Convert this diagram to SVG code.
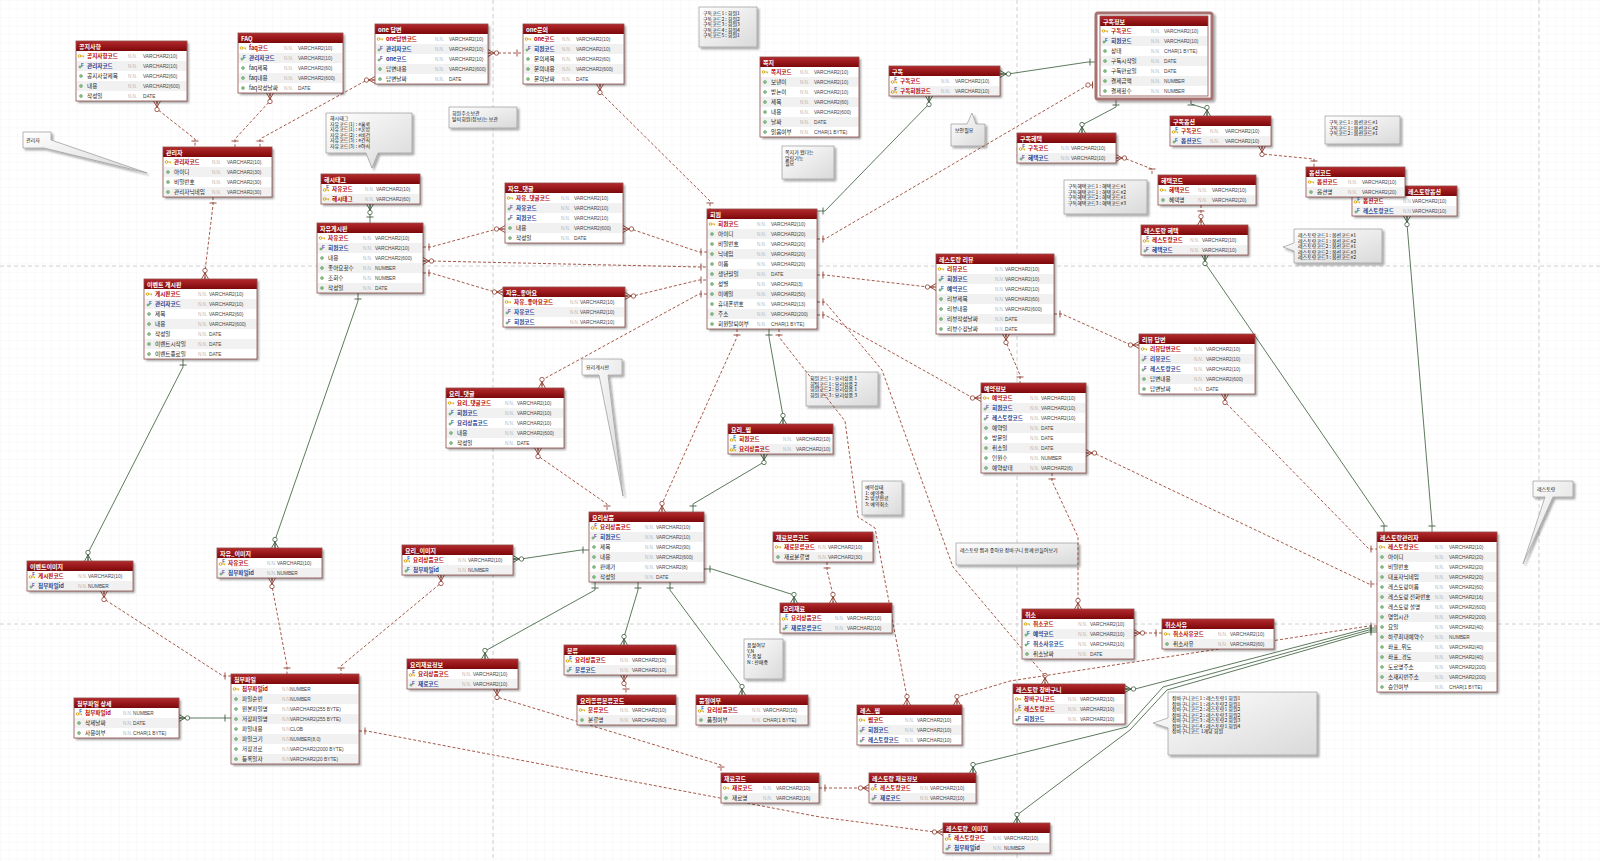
<svg xmlns="http://www.w3.org/2000/svg" xmlns:xlink="http://www.w3.org/1999/xlink" width="1600" height="861" viewBox="0 0 1600 861">
<defs>
<pattern id="grid" width="8.5" height="8.5" patternUnits="userSpaceOnUse"><path d="M0,0H8.5M0,0V8.5" fill="none" stroke="#ececec" stroke-width=".5"/></pattern>
<linearGradient id="hg" x1="0" y1="0" x2="0" y2="1"><stop offset="0" stop-color="#b52a2c"/><stop offset="1" stop-color="#7c080a"/></linearGradient>
<linearGradient id="ng" x1="0" y1="0" x2="1" y2="1"><stop offset="0" stop-color="#ffffff"/><stop offset="1" stop-color="#d9d9d9"/></linearGradient>
<filter id="sh" x="-10%" y="-10%" width="130%" height="140%"><feDropShadow dx="2" dy="2" stdDeviation="1.2" flood-color="#000" flood-opacity=".35"/></filter>
<g id="ia"><circle r="1.5" fill="#8cc58c" stroke="#3f7f3f" stroke-width=".4"/></g>
<g id="ik"><circle cx="-1.5" r="1.3" fill="none" stroke="#d2a400" stroke-width=".9"/><path d="M-.2,0H3.2M2.4,0V1.4" fill="none" stroke="#d2a400" stroke-width=".8"/></g>
<g id="if"><circle cx="-1" cy="1" r="1.2" fill="#8cc58c" stroke="#3f7f3f" stroke-width=".3"/><text x="0" y="0.6" font-family="Liberation Sans, sans-serif" font-size="4.5" font-weight="bold" fill="#2a4f9e">F</text></g>
<g id="ikf"><use href="#ik" y="1"/><text x="0.3" y="-0.4" font-family="Liberation Sans, sans-serif" font-size="4.5" font-weight="bold" fill="#2a4f9e">F</text></g>
<marker id="r1" markerUnits="userSpaceOnUse" orient="auto-start-reverse" markerWidth="20" markerHeight="20" refX="0" refY="0" style="overflow:visible"><path d="M-6,-3.5V3.5" stroke="#8e3b2e" stroke-width=".9" fill="none"/></marker>
<marker id="rm" markerUnits="userSpaceOnUse" orient="auto-start-reverse" markerWidth="20" markerHeight="20" refX="0" refY="0" style="overflow:visible"><path d="M-6,0L0,-3.5M-6,0L0,0M-6,0L0,3.5" stroke="#8e3b2e" stroke-width=".9" fill="none"/><circle cx="-8.5" r="2.2" fill="#fff" stroke="#8e3b2e" stroke-width=".8"/></marker>
<marker id="ro" markerUnits="userSpaceOnUse" orient="auto-start-reverse" markerWidth="20" markerHeight="20" refX="0" refY="0" style="overflow:visible"><path d="M-3.5,-3.5V3.5" stroke="#8e3b2e" stroke-width=".9" fill="none"/><circle cx="-8" r="2.2" fill="#fff" stroke="#8e3b2e" stroke-width=".8"/></marker>
<marker id="g1" markerUnits="userSpaceOnUse" orient="auto-start-reverse" markerWidth="20" markerHeight="20" refX="0" refY="0" style="overflow:visible"><path d="M-6,-3.5V3.5" stroke="#3c5a3c" stroke-width=".9" fill="none"/></marker>
<marker id="gm" markerUnits="userSpaceOnUse" orient="auto-start-reverse" markerWidth="20" markerHeight="20" refX="0" refY="0" style="overflow:visible"><path d="M-6,0L0,-3.5M-6,0L0,0M-6,0L0,3.5" stroke="#3c5a3c" stroke-width=".9" fill="none"/><circle cx="-8.5" r="2.2" fill="#fff" stroke="#3c5a3c" stroke-width=".8"/></marker>
</defs>
<style>
.bd{fill:#fff;filter:url(#sh)}
.fr{fill:none;stroke:#8e4b4b;stroke-width:.8}
.hd{fill:url(#hg)}
.z{fill:#f1f1f1}
.h{font-family:"Noto Sans CJK KR","Liberation Sans",sans-serif;font-size:6px;font-weight:bold;fill:#fff}
.p,.f,.a{font-family:"Noto Sans CJK KR","Liberation Sans",sans-serif;font-size:5.6px}
.p{font-weight:bold;fill:#b40000}
.f{font-weight:bold;fill:#1f3f90}
.a{fill:#222}
.n{font-family:"Liberation Sans",sans-serif;font-size:4.6px;fill:#b5b5b5}
.t{font-family:"Liberation Sans",sans-serif;font-size:4.8px;fill:#444}
.nt{fill:url(#ng);stroke:#999;stroke-width:.7;filter:url(#sh)}
.nx{font-family:"Noto Sans CJK KR","Liberation Sans",sans-serif;font-size:5px;fill:#111}
.r{fill:none;stroke:#9b4636;stroke-width:.9;stroke-dasharray:3 2}
.g{fill:none;stroke:#4b6b4b;stroke-width:.9}
.pg{stroke:#c4c4c4;stroke-width:.8;stroke-dasharray:4 3;fill:none}
</style>
<rect width="1600" height="861" fill="#fff"/>
<rect width="1600" height="861" fill="url(#grid)"/>
<g id="pages">
<path class="pg" d="M493,0V861M1017,0V861M1539,0V861M0,266H1600M0,624H1600"/>
</g>

<g id="notes">
<g id="n1"><path class="nt" d="M23,132H51V140L147,173L44,148H23Z"/><text class="nx" x="26" y="142">관리자</text></g>
<g id="n2"><path class="nt" d="M326,113H412V153H378L372,168L366,153H326Z"/><text class="nx" x="330" y="120">해시태그</text><text class="nx" x="330" y="125.5">자유코드(1) : #홈쿡</text><text class="nx" x="330" y="131">자유코드(1) : #혼밥</text><text class="nx" x="330" y="136.5">자유코드(2) : #비건</text><text class="nx" x="330" y="142">자유코드(3) : #간식</text><text class="nx" x="330" y="147.5">자유코드(3) : #야식</text></g>
<g id="n3"><rect class="nt" x="449" y="107" width="68" height="21"/><text class="nx" x="452" y="115">회원주소보관</text><text class="nx" x="452" y="121">탈퇴회원(정보)는 보관</text></g>
<g id="n4"><rect class="nt" x="699" y="7" width="58" height="40"/><text class="nx" x="703" y="15">구독코드1 : 회원1</text><text class="nx" x="703" y="20.5">구독코드2 : 회원2</text><text class="nx" x="703" y="26">구독코드3 : 회원3</text><text class="nx" x="703" y="31.5">구독코드4 : 회원4</text><text class="nx" x="703" y="37">구독코드5 : 회원1</text></g>
<g id="n5"><rect class="nt" x="782" y="146" width="52" height="33"/><text class="nx" x="785" y="154">쪽지가 왔다는</text><text class="nx" x="785" y="159.5">알림기능</text><text class="nx" x="785" y="165">필요</text></g>
<g id="n6"><path class="nt" d="M951,124H967L972,113L976,124H985V146H951Z"/><text class="nx" x="955" y="132">보안필요</text></g>
<g id="n7"><rect class="nt" x="1064" y="180" width="83" height="34"/><text class="nx" x="1068" y="188">구독혜택코드1 : 혜택코드#1</text><text class="nx" x="1068" y="193.5">구독혜택코드1 : 혜택코드#2</text><text class="nx" x="1068" y="199">구독혜택코드2 : 혜택코드#1</text><text class="nx" x="1068" y="204.5">구독혜택코드3 : 혜택코드#3</text></g>
<g id="n8"><rect class="nt" x="1325" y="116" width="75" height="28"/><text class="nx" x="1329" y="124">구독코드1 : 옵션코드#1</text><text class="nx" x="1329" y="129.5">구독코드1 : 옵션코드#2</text><text class="nx" x="1329" y="135">구독코드2 : 옵션코드#1</text></g>
<g id="n9"><path class="nt" d="M1294,229H1382V263H1294V251L1283,247L1294,243Z"/><text class="nx" x="1298" y="237">레스토랑코드1 : 옵션코드#1</text><text class="nx" x="1298" y="242.5">레스토랑코드1 : 옵션코드#2</text><text class="nx" x="1298" y="248">레스토랑코드2 : 옵션코드#1</text><text class="nx" x="1298" y="253.5">레스토랑코드2 : 옵션코드#3</text><text class="nx" x="1298" y="259">레스토랑코드3 : 옵션코드#2</text></g>
<g id="n10"><path class="nt" d="M582,359H622V375H608L623,496L599,375H582Z"/><text class="nx" x="586" y="369">요리게시판</text></g>
<g id="n11"><rect class="nt" x="806" y="372" width="72" height="34"/><text class="nx" x="810" y="380">회원코드1 : 요리상품 1</text><text class="nx" x="810" y="385.5">회원코드1 : 요리상품 2</text><text class="nx" x="810" y="391">회원코드2 : 요리상품 1</text><text class="nx" x="810" y="396.5">회원코드3 : 요리상품 3</text></g>
<g id="n12"><rect class="nt" x="862" y="481" width="40" height="34"/><text class="nx" x="865" y="489">예약상태</text><text class="nx" x="865" y="494.5">1: 예약중</text><text class="nx" x="865" y="500">2: 방문완료</text><text class="nx" x="865" y="505.5">3: 예약취소</text></g>
<g id="n13"><rect class="nt" x="956" y="543" width="122" height="22"/><text class="nx" x="960" y="552">레스토랑 찜과 좋아요 장바구니 함께 만들어보기</text></g>
<g id="n14"><path class="nt" d="M1533,481H1573V497H1553L1523,564L1545,497H1533Z"/><text class="nx" x="1537" y="491">레스토랑</text></g>
<g id="n15"><rect class="nt" x="744" y="639" width="39" height="40"/><text class="nx" x="747" y="647">품절여부</text><text class="nx" x="747" y="652.5">Y,N</text><text class="nx" x="747" y="658">Y: 품절</text><text class="nx" x="747" y="663.5">N : 판매중</text></g>
<g id="n16"><path class="nt" d="M1168,692H1317V755H1168V728L1153,723L1168,718Z"/><text class="nx" x="1172" y="700">장바구니코드1 : 레스토랑1 회원1</text><text class="nx" x="1172" y="705.5">장바구니코드1 : 레스토랑2 회원1</text><text class="nx" x="1172" y="711">장바구니코드2 : 레스토랑1 회원2</text><text class="nx" x="1172" y="716.5">장바구니코드2 : 레스토랑3 회원2</text><text class="nx" x="1172" y="722">장바구니코드3 : 레스토랑2 회원3</text><text class="nx" x="1172" y="727.5">장바구니코드4 : 레스토랑1 회원4</text><text class="nx" x="1172" y="733">장바구니코드 1개당 회원</text></g>
</g>

<g id="connectors">
<path class="r" d="M157,101V109L195,139V147" marker-start="url(#rm)" marker-end="url(#r1)"/>
<path class="r" d="M270,93V101L235,139V147" marker-start="url(#rm)" marker-end="url(#r1)"/>
<path class="r" d="M375,80H367L260,139V147" marker-start="url(#rm)" marker-end="url(#r1)"/>
<path class="r" d="M488,53H523" marker-start="url(#rm)" marker-end="url(#r1)"/>
<path class="r" d="M600,84V92L710,201V209" marker-start="url(#rm)" marker-end="url(#r1)"/>
<path class="r" d="M213,197V205L205,271V279" marker-start="url(#r1)" marker-end="url(#rm)"/>
<path class="g" d="M370,204V223" marker-start="url(#gm)" marker-end="url(#g1)"/>
<path class="r" d="M423,247H431L497,229H505" marker-start="url(#r1)" marker-end="url(#rm)"/>
<path class="r" d="M623,229H631L699,252H707" marker-start="url(#rm)" marker-end="url(#r1)"/>
<path class="r" d="M423,261H431L699,267H707" marker-start="url(#rm)" marker-end="url(#r1)"/>
<path class="r" d="M423,273H431L495,292H503" marker-start="url(#r1)" marker-end="url(#rm)"/>
<path class="r" d="M625,296H633L699,280H707" marker-start="url(#rm)" marker-end="url(#r1)"/>
<path class="r" d="M707,294H699L542,380V388" marker-start="url(#r1)" marker-end="url(#rm)"/>
<path class="r" d="M737,329V337L662,504V512" marker-start="url(#r1)" marker-end="url(#rm)"/>
<path class="g" d="M769,329V337L783,416V424" marker-start="url(#g1)" marker-end="url(#gm)"/>
<path class="r" d="M779,329V337L845,421L858,517L875,528L907,697V705" marker-start="url(#r1)" marker-end="url(#rm)"/>
<path class="r" d="M817,302H825L882,370L953,567L1045,676V684" marker-start="url(#r1)" marker-end="url(#rm)"/>
<path class="r" d="M1377,626H1369L1010,681L957,697V705" marker-start="url(#r1)" marker-end="url(#rm)"/>
<path class="g" d="M1377,628H1369L1135,689H1125" marker-start="url(#g1)" marker-end="url(#gm)"/>
<path class="g" d="M1377,630H1369L1163,687L1127,727L973,765V773" marker-start="url(#g1)" marker-end="url(#gm)"/>
<path class="g" d="M1377,632H1369L1167,690L1130,730L1017,815V823" marker-start="url(#g1)" marker-end="url(#gm)"/>
<path class="r" d="M819,788H869" marker-start="url(#r1)" marker-end="url(#rm)"/>
<path class="r" d="M359,731H367L820,817L935,832H943" marker-start="url(#r1)" marker-end="url(#rm)"/>
<path class="r" d="M497,689V697L721,765V773" marker-start="url(#rm)" marker-end="url(#r1)"/>
<path class="r" d="M624,675V683L626,687V695" marker-start="url(#rm)" marker-end="url(#r1)"/>
<path class="g" d="M595,582V590L485,651V659" marker-start="url(#g1)" marker-end="url(#gm)"/>
<path class="g" d="M638,582V590L624,637V645" marker-start="url(#g1)" marker-end="url(#gm)"/>
<path class="g" d="M670,582V590L742,687V695" marker-start="url(#g1)" marker-end="url(#gm)"/>
<path class="g" d="M704,569H712L794,595V603" marker-start="url(#g1)" marker-end="url(#gm)"/>
<path class="r" d="M827,562V570L833,595V603" marker-start="url(#r1)" marker-end="url(#rm)"/>
<path class="g" d="M764,454V462L693,504V512" marker-start="url(#gm)" marker-end="url(#g1)"/>
<path class="r" d="M538,448V456L607,504V512" marker-start="url(#rm)" marker-end="url(#r1)"/>
<path class="g" d="M513,559H521L581,550H589" marker-start="url(#gm)" marker-end="url(#g1)"/>
<path class="r" d="M441,575V583L341,666V674" marker-start="url(#rm)" marker-end="url(#r1)"/>
<path class="r" d="M272,578V586L287,666V674" marker-start="url(#rm)" marker-end="url(#r1)"/>
<path class="r" d="M104,591V599L223,676H231" marker-start="url(#rm)" marker-end="url(#r1)"/>
<path class="g" d="M179,718H231" marker-start="url(#gm)" marker-end="url(#g1)"/>
<path class="g" d="M183,359V367L88,553V561" marker-start="url(#g1)" marker-end="url(#gm)"/>
<path class="g" d="M358,293V301L275,540V548" marker-start="url(#g1)" marker-end="url(#gm)"/>
<path class="g" d="M817,211H825L929,104V96" marker-start="url(#g1)" marker-end="url(#gm)"/>
<path class="r" d="M817,239H825L1088,85H1096" marker-start="url(#r1)" marker-end="url(#ro)"/>
<path class="g" d="M1000,74H1008L1088,62H1096" marker-start="url(#gm)" marker-end="url(#g1)"/>
<path class="g" d="M1116,99V107L1082,125V133" marker-start="url(#g1)" marker-end="url(#gm)"/>
<path class="g" d="M1191,99V104L1207,109V116" marker-start="url(#g1)" marker-end="url(#gm)"/>
<path class="r" d="M1116,158H1124L1152,169V175" marker-start="url(#rm)" marker-end="url(#r1)"/>
<path class="r" d="M1201,205V225" marker-start="url(#r1)" marker-end="url(#rm)"/>
<path class="g" d="M1205,255V263L1384,524V532" marker-start="url(#gm)" marker-end="url(#g1)"/>
<path class="r" d="M1262,146V154L1314,159V167" marker-start="url(#rm)" marker-end="url(#r1)"/>
<path class="r" d="M1363,177L1398,199V206" marker-start="url(#rm)" marker-end="url(#r1)"/>
<path class="g" d="M1407,216V224L1432,524V532" marker-start="url(#gm)" marker-end="url(#g1)"/>
<path class="r" d="M1054,314H1062L1131,345H1139" marker-start="url(#r1)" marker-end="url(#rm)"/>
<path class="r" d="M817,275H825L928,287H936" marker-start="url(#r1)" marker-end="url(#rm)"/>
<path class="r" d="M1006,334V342L1020,375V383" marker-start="url(#rm)" marker-end="url(#r1)"/>
<path class="r" d="M817,315H825L973,398H981" marker-start="url(#r1)" marker-end="url(#rm)"/>
<path class="r" d="M1086,453H1094L1369,584H1377" marker-start="url(#rm)" marker-end="url(#r1)"/>
<path class="r" d="M1225,394V402L1369,549H1377" marker-start="url(#rm)" marker-end="url(#r1)"/>
<path class="r" d="M1052,473V481L1078,537V609" marker-start="url(#r1)" marker-end="url(#rm)"/>
<path class="r" d="M1134,633H1162" marker-start="url(#rm)" marker-end="url(#r1)"/>
</g>

<g id="t01" transform="translate(76,41)"><rect class="bd" width="111" height="60"/><rect class="z" x=".5" y="20" width="110" height="10"/><rect class="z" x=".5" y="40" width="110" height="10"/><rect class="hd" width="111" height="10"/><rect class="fr" width="111" height="60"/><text class="h" x="3" y="7.6">공지사항</text>
<use href="#ik" x="5" y="15"/><text class="p" x="11" y="17.2">공지사항코드</text><text class="n" x="52" y="17.2">N.N.</text><text class="t" x="67" y="17.2">VARCHAR2(10)</text>
<use href="#if" x="5" y="25"/><text class="f" x="11" y="27.2">관리자코드</text><text class="n" x="52" y="27.2">N.N.</text><text class="t" x="67" y="27.2">VARCHAR2(10)</text>
<use href="#ia" x="5" y="35"/><text class="a" x="11" y="37.2">공지사항제목</text><text class="n" x="52" y="37.2">N.N.</text><text class="t" x="67" y="37.2">VARCHAR2(60)</text>
<use href="#ia" x="5" y="45"/><text class="a" x="11" y="47.2">내용</text><text class="n" x="52" y="47.2">N.N.</text><text class="t" x="67" y="47.2">VARCHAR2(600)</text>
<use href="#ia" x="5" y="55"/><text class="a" x="11" y="57.2">작성일</text><text class="n" x="52" y="57.2">N.N.</text><text class="t" x="67" y="57.2">DATE</text></g>

<g id="t02" transform="translate(238,33)"><rect class="bd" width="105" height="60"/><rect class="z" x=".5" y="20" width="104" height="10"/><rect class="z" x=".5" y="40" width="104" height="10"/><rect class="hd" width="105" height="10"/><rect class="fr" width="105" height="60"/><text class="h" x="3" y="7.6">FAQ</text>
<use href="#ik" x="5" y="15"/><text class="p" x="11" y="17.2">faq코드</text><text class="n" x="46" y="17.2">N.N.</text><text class="t" x="60" y="17.2">VARCHAR2(10)</text>
<use href="#if" x="5" y="25"/><text class="f" x="11" y="27.2">관리자코드</text><text class="n" x="46" y="27.2">N.N.</text><text class="t" x="60" y="27.2">VARCHAR2(10)</text>
<use href="#ia" x="5" y="35"/><text class="a" x="11" y="37.2">faq제목</text><text class="n" x="46" y="37.2">N.N.</text><text class="t" x="60" y="37.2">VARCHAR2(60)</text>
<use href="#ia" x="5" y="45"/><text class="a" x="11" y="47.2">faq내용</text><text class="n" x="46" y="47.2">N.N.</text><text class="t" x="60" y="47.2">VARCHAR2(600)</text>
<use href="#ia" x="5" y="55"/><text class="a" x="11" y="57.2">faq작성날짜</text><text class="n" x="46" y="57.2">N.N.</text><text class="t" x="60" y="57.2">DATE</text></g>

<g id="t03" transform="translate(163,147)"><rect class="bd" width="109" height="50"/><rect class="z" x=".5" y="20" width="108" height="10"/><rect class="z" x=".5" y="40" width="108" height="10"/><rect class="hd" width="109" height="10"/><rect class="fr" width="109" height="50"/><text class="h" x="3" y="7.6">관리자</text>
<use href="#ik" x="5" y="15"/><text class="p" x="11" y="17.2">관리자코드</text><text class="n" x="49" y="17.2">N.N.</text><text class="t" x="64" y="17.2">VARCHAR2(10)</text>
<use href="#ia" x="5" y="25"/><text class="a" x="11" y="27.2">아이디</text><text class="n" x="49" y="27.2">N.N.</text><text class="t" x="64" y="27.2">VARCHAR2(30)</text>
<use href="#ia" x="5" y="35"/><text class="a" x="11" y="37.2">비밀번호</text><text class="n" x="49" y="37.2">N.N.</text><text class="t" x="64" y="37.2">VARCHAR2(30)</text>
<use href="#ia" x="5" y="45"/><text class="a" x="11" y="47.2">관리자닉네임</text><text class="n" x="49" y="47.2">N.N.</text><text class="t" x="64" y="47.2">VARCHAR2(30)</text></g>

<g id="t04" transform="translate(375,24)"><rect class="bd" width="113" height="60"/><rect class="z" x=".5" y="20" width="112" height="10"/><rect class="z" x=".5" y="40" width="112" height="10"/><rect class="hd" width="113" height="10"/><rect class="fr" width="113" height="60"/><text class="h" x="3" y="7.6">one 답변</text>
<use href="#ik" x="5" y="15"/><text class="p" x="11" y="17.2">one답변코드</text><text class="n" x="60" y="17.2">N.N.</text><text class="t" x="74" y="17.2">VARCHAR2(10)</text>
<use href="#if" x="5" y="25"/><text class="f" x="11" y="27.2">관리자코드</text><text class="n" x="60" y="27.2">N.N.</text><text class="t" x="74" y="27.2">VARCHAR2(10)</text>
<use href="#if" x="5" y="35"/><text class="f" x="11" y="37.2">one코드</text><text class="n" x="60" y="37.2">N.N.</text><text class="t" x="74" y="37.2">VARCHAR2(10)</text>
<use href="#ia" x="5" y="45"/><text class="a" x="11" y="47.2">답변내용</text><text class="n" x="60" y="47.2">N.N.</text><text class="t" x="74" y="47.2">VARCHAR2(600)</text>
<use href="#ia" x="5" y="55"/><text class="a" x="11" y="57.2">답변날짜</text><text class="n" x="60" y="57.2">N.N.</text><text class="t" x="74" y="57.2">DATE</text></g>

<g id="t05" transform="translate(523,24)"><rect class="bd" width="101" height="60"/><rect class="z" x=".5" y="20" width="100" height="10"/><rect class="z" x=".5" y="40" width="100" height="10"/><rect class="hd" width="101" height="10"/><rect class="fr" width="101" height="60"/><text class="h" x="3" y="7.6">one문의</text>
<use href="#ik" x="5" y="15"/><text class="p" x="11" y="17.2">one코드</text><text class="n" x="39" y="17.2">N.N.</text><text class="t" x="53" y="17.2">VARCHAR2(10)</text>
<use href="#if" x="5" y="25"/><text class="f" x="11" y="27.2">회원코드</text><text class="n" x="39" y="27.2">N.N.</text><text class="t" x="53" y="27.2">VARCHAR2(10)</text>
<use href="#ia" x="5" y="35"/><text class="a" x="11" y="37.2">문의제목</text><text class="n" x="39" y="37.2">N.N.</text><text class="t" x="53" y="37.2">VARCHAR2(60)</text>
<use href="#ia" x="5" y="45"/><text class="a" x="11" y="47.2">문의내용</text><text class="n" x="39" y="47.2">N.N.</text><text class="t" x="53" y="47.2">VARCHAR2(600)</text>
<use href="#ia" x="5" y="55"/><text class="a" x="11" y="57.2">문의날짜</text><text class="n" x="39" y="57.2">N.N.</text><text class="t" x="53" y="57.2">DATE</text></g>

<g id="t06" transform="translate(760,57)"><rect class="bd" width="99" height="80"/><rect class="z" x=".5" y="20" width="98" height="10"/><rect class="z" x=".5" y="40" width="98" height="10"/><rect class="z" x=".5" y="60" width="98" height="10"/><rect class="hd" width="99" height="10"/><rect class="fr" width="99" height="80"/><text class="h" x="3" y="7.6">쪽지</text>
<use href="#ik" x="5" y="15"/><text class="p" x="11" y="17.2">쪽지코드</text><text class="n" x="40" y="17.2">N.N.</text><text class="t" x="54" y="17.2">VARCHAR2(10)</text>
<use href="#ia" x="5" y="25"/><text class="a" x="11" y="27.2">보낸이</text><text class="n" x="40" y="27.2">N.N.</text><text class="t" x="54" y="27.2">VARCHAR2(10)</text>
<use href="#ia" x="5" y="35"/><text class="a" x="11" y="37.2">받는이</text><text class="n" x="40" y="37.2">N.N.</text><text class="t" x="54" y="37.2">VARCHAR2(10)</text>
<use href="#ia" x="5" y="45"/><text class="a" x="11" y="47.2">제목</text><text class="n" x="40" y="47.2">N.N.</text><text class="t" x="54" y="47.2">VARCHAR2(60)</text>
<use href="#ia" x="5" y="55"/><text class="a" x="11" y="57.2">내용</text><text class="n" x="40" y="57.2">N.N.</text><text class="t" x="54" y="57.2">VARCHAR2(600)</text>
<use href="#ia" x="5" y="65"/><text class="a" x="11" y="67.2">날짜</text><text class="n" x="40" y="67.2">N.N.</text><text class="t" x="54" y="67.2">DATE</text>
<use href="#ia" x="5" y="75"/><text class="a" x="11" y="77.2">읽음여부</text><text class="n" x="40" y="77.2">N.N.</text><text class="t" x="54" y="77.2">CHAR(1 BYTE)</text></g>

<g id="t07" transform="translate(321,174)"><rect class="bd" width="99" height="30"/><rect class="z" x=".5" y="20" width="98" height="10"/><rect class="hd" width="99" height="10"/><rect class="fr" width="99" height="30"/><text class="h" x="3" y="7.6">해시태그</text>
<use href="#ikf" x="5" y="15"/><text class="p" x="11" y="17.2">자유코드</text><text class="n" x="44" y="17.2">N.N.</text><text class="t" x="55" y="17.2">VARCHAR2(10)</text>
<use href="#ik" x="5" y="25"/><text class="p" x="11" y="27.2">해시태그</text><text class="n" x="44" y="27.2">N.N.</text><text class="t" x="55" y="27.2">VARCHAR2(60)</text></g>

<g id="t08" transform="translate(317,223)"><rect class="bd" width="106" height="70"/><rect class="z" x=".5" y="20" width="105" height="10"/><rect class="z" x=".5" y="40" width="105" height="10"/><rect class="z" x=".5" y="60" width="105" height="10"/><rect class="hd" width="106" height="10"/><rect class="fr" width="106" height="70"/><text class="h" x="3" y="7.6">자유게시판</text>
<use href="#ik" x="5" y="15"/><text class="p" x="11" y="17.2">자유코드</text><text class="n" x="46" y="17.2">N.N.</text><text class="t" x="58" y="17.2">VARCHAR2(10)</text>
<use href="#if" x="5" y="25"/><text class="f" x="11" y="27.2">회원코드</text><text class="n" x="46" y="27.2">N.N.</text><text class="t" x="58" y="27.2">VARCHAR2(10)</text>
<use href="#ia" x="5" y="35"/><text class="a" x="11" y="37.2">내용</text><text class="n" x="46" y="37.2">N.N.</text><text class="t" x="58" y="37.2">VARCHAR2(600)</text>
<use href="#ia" x="5" y="45"/><text class="a" x="11" y="47.2">좋아요횟수</text><text class="n" x="46" y="47.2">N.N.</text><text class="t" x="58" y="47.2">NUMBER</text>
<use href="#ia" x="5" y="55"/><text class="a" x="11" y="57.2">조회수</text><text class="n" x="46" y="57.2">N.N.</text><text class="t" x="58" y="57.2">NUMBER</text>
<use href="#ia" x="5" y="65"/><text class="a" x="11" y="67.2">작성일</text><text class="n" x="46" y="67.2">N.N.</text><text class="t" x="58" y="67.2">DATE</text></g>

<g id="t09" transform="translate(505,183)"><rect class="bd" width="118" height="60"/><rect class="z" x=".5" y="20" width="117" height="10"/><rect class="z" x=".5" y="40" width="117" height="10"/><rect class="hd" width="118" height="10"/><rect class="fr" width="118" height="60"/><text class="h" x="3" y="7.6">자유_댓글</text>
<use href="#ik" x="5" y="15"/><text class="p" x="11" y="17.2">자유_댓글코드</text><text class="n" x="56" y="17.2">N.N.</text><text class="t" x="69" y="17.2">VARCHAR2(10)</text>
<use href="#if" x="5" y="25"/><text class="f" x="11" y="27.2">자유코드</text><text class="n" x="56" y="27.2">N.N.</text><text class="t" x="69" y="27.2">VARCHAR2(10)</text>
<use href="#if" x="5" y="35"/><text class="f" x="11" y="37.2">회원코드</text><text class="n" x="56" y="37.2">N.N.</text><text class="t" x="69" y="37.2">VARCHAR2(10)</text>
<use href="#ia" x="5" y="45"/><text class="a" x="11" y="47.2">내용</text><text class="n" x="56" y="47.2">N.N.</text><text class="t" x="69" y="47.2">VARCHAR2(600)</text>
<use href="#ia" x="5" y="55"/><text class="a" x="11" y="57.2">작성일</text><text class="n" x="56" y="57.2">N.N.</text><text class="t" x="69" y="57.2">DATE</text></g>

<g id="t10" transform="translate(503,287)"><rect class="bd" width="122" height="40"/><rect class="z" x=".5" y="20" width="121" height="10"/><rect class="hd" width="122" height="10"/><rect class="fr" width="122" height="40"/><text class="h" x="3" y="7.6">자유_좋아요</text>
<use href="#ik" x="5" y="15"/><text class="p" x="11" y="17.2">자유_좋아요코드</text><text class="n" x="67" y="17.2">N.N.</text><text class="t" x="77" y="17.2">VARCHAR2(10)</text>
<use href="#if" x="5" y="25"/><text class="f" x="11" y="27.2">자유코드</text><text class="n" x="67" y="27.2">N.N.</text><text class="t" x="77" y="27.2">VARCHAR2(10)</text>
<use href="#if" x="5" y="35"/><text class="f" x="11" y="37.2">회원코드</text><text class="n" x="67" y="37.2">N.N.</text><text class="t" x="77" y="37.2">VARCHAR2(10)</text></g>

<g id="t11" transform="translate(707,209)"><rect class="bd" width="110" height="120"/><rect class="z" x=".5" y="20" width="109" height="10"/><rect class="z" x=".5" y="40" width="109" height="10"/><rect class="z" x=".5" y="60" width="109" height="10"/><rect class="z" x=".5" y="80" width="109" height="10"/><rect class="z" x=".5" y="100" width="109" height="10"/><rect class="hd" width="110" height="10"/><rect class="fr" width="110" height="120"/><text class="h" x="3" y="7.6">회원</text>
<use href="#ik" x="5" y="15"/><text class="p" x="11" y="17.2">회원코드</text><text class="n" x="50" y="17.2">N.N.</text><text class="t" x="64" y="17.2">VARCHAR2(10)</text>
<use href="#ia" x="5" y="25"/><text class="a" x="11" y="27.2">아이디</text><text class="n" x="50" y="27.2">N.N.</text><text class="t" x="64" y="27.2">VARCHAR2(20)</text>
<use href="#ia" x="5" y="35"/><text class="a" x="11" y="37.2">비밀번호</text><text class="n" x="50" y="37.2">N.N.</text><text class="t" x="64" y="37.2">VARCHAR2(20)</text>
<use href="#ia" x="5" y="45"/><text class="a" x="11" y="47.2">닉네임</text><text class="n" x="50" y="47.2">N.N.</text><text class="t" x="64" y="47.2">VARCHAR2(20)</text>
<use href="#ia" x="5" y="55"/><text class="a" x="11" y="57.2">이름</text><text class="n" x="50" y="57.2">N.N.</text><text class="t" x="64" y="57.2">VARCHAR2(20)</text>
<use href="#ia" x="5" y="65"/><text class="a" x="11" y="67.2">생년월일</text><text class="n" x="50" y="67.2">N.N.</text><text class="t" x="64" y="67.2">DATE</text>
<use href="#ia" x="5" y="75"/><text class="a" x="11" y="77.2">성별</text><text class="n" x="50" y="77.2">N.N.</text><text class="t" x="64" y="77.2">VARCHAR2(3)</text>
<use href="#ia" x="5" y="85"/><text class="a" x="11" y="87.2">이메일</text><text class="n" x="50" y="87.2">N.N.</text><text class="t" x="64" y="87.2">VARCHAR2(50)</text>
<use href="#ia" x="5" y="95"/><text class="a" x="11" y="97.2">휴대폰번호</text><text class="n" x="50" y="97.2">N.N.</text><text class="t" x="64" y="97.2">VARCHAR2(13)</text>
<use href="#ia" x="5" y="105"/><text class="a" x="11" y="107.2">주소</text><text class="n" x="50" y="107.2">N.N.</text><text class="t" x="64" y="107.2">VARCHAR2(200)</text>
<use href="#ia" x="5" y="115"/><text class="a" x="11" y="117.2">회원탈퇴여부</text><text class="n" x="50" y="117.2">N.N.</text><text class="t" x="64" y="117.2">CHAR(1 BYTE)</text></g>

<g id="t12" transform="translate(144,279)"><rect class="bd" width="113" height="80"/><rect class="z" x=".5" y="20" width="112" height="10"/><rect class="z" x=".5" y="40" width="112" height="10"/><rect class="z" x=".5" y="60" width="112" height="10"/><rect class="hd" width="113" height="10"/><rect class="fr" width="113" height="80"/><text class="h" x="3" y="7.6">이벤트 게시판</text>
<use href="#ik" x="5" y="15"/><text class="p" x="11" y="17.2">게시판코드</text><text class="n" x="54" y="17.2">N.N.</text><text class="t" x="65" y="17.2">VARCHAR2(10)</text>
<use href="#if" x="5" y="25"/><text class="f" x="11" y="27.2">관리자코드</text><text class="n" x="54" y="27.2">N.N.</text><text class="t" x="65" y="27.2">VARCHAR2(10)</text>
<use href="#ia" x="5" y="35"/><text class="a" x="11" y="37.2">제목</text><text class="n" x="54" y="37.2">N.N.</text><text class="t" x="65" y="37.2">VARCHAR2(60)</text>
<use href="#ia" x="5" y="45"/><text class="a" x="11" y="47.2">내용</text><text class="n" x="54" y="47.2">N.N.</text><text class="t" x="65" y="47.2">VARCHAR2(600)</text>
<use href="#ia" x="5" y="55"/><text class="a" x="11" y="57.2">작성일</text><text class="n" x="54" y="57.2">N.N.</text><text class="t" x="65" y="57.2">DATE</text>
<use href="#ia" x="5" y="65"/><text class="a" x="11" y="67.2">이벤트시작일</text><text class="n" x="54" y="67.2">N.N.</text><text class="t" x="65" y="67.2">DATE</text>
<use href="#ia" x="5" y="75"/><text class="a" x="11" y="77.2">이벤트종료일</text><text class="n" x="54" y="77.2">N.N.</text><text class="t" x="65" y="77.2">DATE</text></g>

<g id="t13" transform="translate(27,561)"><rect class="bd" width="106" height="30"/><rect class="z" x=".5" y="20" width="105" height="10"/><rect class="hd" width="106" height="10"/><rect class="fr" width="106" height="30"/><text class="h" x="3" y="7.6">이벤트이미지</text>
<use href="#ikf" x="5" y="15"/><text class="p" x="11" y="17.2">게시판코드</text><text class="n" x="51" y="17.2">N.N.</text><text class="t" x="61" y="17.2">VARCHAR2(10)</text>
<use href="#if" x="5" y="25"/><text class="f" x="11" y="27.2">첨부파일id</text><text class="n" x="51" y="27.2">N.N.</text><text class="t" x="61" y="27.2">NUMBER</text></g>

<g id="t14" transform="translate(217,548)"><rect class="bd" width="105" height="30"/><rect class="z" x=".5" y="20" width="104" height="10"/><rect class="hd" width="105" height="10"/><rect class="fr" width="105" height="30"/><text class="h" x="3" y="7.6">자유_이미지</text>
<use href="#ikf" x="5" y="15"/><text class="p" x="11" y="17.2">자유코드</text><text class="n" x="50" y="17.2">N.N.</text><text class="t" x="60" y="17.2">VARCHAR2(10)</text>
<use href="#if" x="5" y="25"/><text class="f" x="11" y="27.2">첨부파일id</text><text class="n" x="50" y="27.2">N.N.</text><text class="t" x="60" y="27.2">NUMBER</text></g>

<g id="t15" transform="translate(231,674)"><rect class="bd" width="128" height="90"/><rect class="z" x=".5" y="20" width="127" height="10"/><rect class="z" x=".5" y="40" width="127" height="10"/><rect class="z" x=".5" y="60" width="127" height="10"/><rect class="z" x=".5" y="80" width="127" height="10"/><rect class="hd" width="128" height="10"/><rect class="fr" width="128" height="90"/><text class="h" x="3" y="7.6">첨부파일</text>
<use href="#ik" x="5" y="15"/><text class="p" x="11" y="17.2">첨부파일id</text><text class="n" x="51" y="17.2">N.N.</text><text class="t" x="59" y="17.2">NUMBER</text>
<use href="#ia" x="5" y="25"/><text class="a" x="11" y="27.2">파일순번</text><text class="n" x="51" y="27.2">N.N.</text><text class="t" x="59" y="27.2">NUMBER</text>
<use href="#ia" x="5" y="35"/><text class="a" x="11" y="37.2">원본파일명</text><text class="n" x="51" y="37.2">N.N.</text><text class="t" x="59" y="37.2">VARCHAR2(255 BYTE)</text>
<use href="#ia" x="5" y="45"/><text class="a" x="11" y="47.2">저장파일명</text><text class="n" x="51" y="47.2">N.N.</text><text class="t" x="59" y="47.2">VARCHAR2(255 BYTE)</text>
<use href="#ia" x="5" y="55"/><text class="a" x="11" y="57.2">파일내용</text><text class="n" x="51" y="57.2">N.N.</text><text class="t" x="59" y="57.2">CLOB</text>
<use href="#ia" x="5" y="65"/><text class="a" x="11" y="67.2">파일크기</text><text class="n" x="51" y="67.2">N.N.</text><text class="t" x="59" y="67.2">NUMBER(8,0)</text>
<use href="#ia" x="5" y="75"/><text class="a" x="11" y="77.2">저장경로</text><text class="n" x="51" y="77.2">N.N.</text><text class="t" x="59" y="77.2">VARCHAR2(2000 BYTE)</text>
<use href="#ia" x="5" y="85"/><text class="a" x="11" y="87.2">등록일자</text><text class="n" x="51" y="87.2">N.N.</text><text class="t" x="59" y="87.2">VARCHAR2(20 BYTE)</text></g>

<g id="t16" transform="translate(74,698)"><rect class="bd" width="105" height="40"/><rect class="z" x=".5" y="20" width="104" height="10"/><rect class="hd" width="105" height="10"/><rect class="fr" width="105" height="40"/><text class="h" x="3" y="7.6">첨부파일 상세</text>
<use href="#ikf" x="5" y="15"/><text class="p" x="11" y="17.2">첨부파일id</text><text class="n" x="49" y="17.2">N.N.</text><text class="t" x="59" y="17.2">NUMBER</text>
<use href="#ia" x="5" y="25"/><text class="a" x="11" y="27.2">삭제날짜</text><text class="n" x="49" y="27.2">N.N.</text><text class="t" x="59" y="27.2">DATE</text>
<use href="#ia" x="5" y="35"/><text class="a" x="11" y="37.2">사용여부</text><text class="n" x="49" y="37.2">N.N.</text><text class="t" x="59" y="37.2">CHAR(1 BYTE)</text></g>

<g id="t17" transform="translate(446,388)"><rect class="bd" width="118" height="60"/><rect class="z" x=".5" y="20" width="117" height="10"/><rect class="z" x=".5" y="40" width="117" height="10"/><rect class="hd" width="118" height="10"/><rect class="fr" width="118" height="60"/><text class="h" x="3" y="7.6">요리_댓글</text>
<use href="#ik" x="5" y="15"/><text class="p" x="11" y="17.2">요리_댓글코드</text><text class="n" x="59" y="17.2">N.N.</text><text class="t" x="71" y="17.2">VARCHAR2(10)</text>
<use href="#if" x="5" y="25"/><text class="f" x="11" y="27.2">회원코드</text><text class="n" x="59" y="27.2">N.N.</text><text class="t" x="71" y="27.2">VARCHAR2(10)</text>
<use href="#if" x="5" y="35"/><text class="f" x="11" y="37.2">요리상품코드</text><text class="n" x="59" y="37.2">N.N.</text><text class="t" x="71" y="37.2">VARCHAR2(10)</text>
<use href="#ia" x="5" y="45"/><text class="a" x="11" y="47.2">내용</text><text class="n" x="59" y="47.2">N.N.</text><text class="t" x="71" y="47.2">VARCHAR2(600)</text>
<use href="#ia" x="5" y="55"/><text class="a" x="11" y="57.2">작성일</text><text class="n" x="59" y="57.2">N.N.</text><text class="t" x="71" y="57.2">DATE</text></g>

<g id="t18" transform="translate(728,424)"><rect class="bd" width="105" height="30"/><rect class="z" x=".5" y="20" width="104" height="10"/><rect class="hd" width="105" height="10"/><rect class="fr" width="105" height="30"/><text class="h" x="3" y="7.6">요리_찜</text>
<use href="#ikf" x="5" y="15"/><text class="p" x="11" y="17.2">회원코드</text><text class="n" x="55" y="17.2">N.N.</text><text class="t" x="68" y="17.2">VARCHAR2(10)</text>
<use href="#ikf" x="5" y="25"/><text class="p" x="11" y="27.2">요리상품코드</text><text class="n" x="55" y="27.2">N.N.</text><text class="t" x="68" y="27.2">VARCHAR2(10)</text></g>

<g id="t19" transform="translate(589,512)"><rect class="bd" width="115" height="70"/><rect class="z" x=".5" y="20" width="114" height="10"/><rect class="z" x=".5" y="40" width="114" height="10"/><rect class="z" x=".5" y="60" width="114" height="10"/><rect class="hd" width="115" height="10"/><rect class="fr" width="115" height="70"/><text class="h" x="3" y="7.6">요리상품</text>
<use href="#ikf" x="5" y="15"/><text class="p" x="11" y="17.2">요리상품코드</text><text class="n" x="56" y="17.2">N.N.</text><text class="t" x="67" y="17.2">VARCHAR2(10)</text>
<use href="#if" x="5" y="25"/><text class="f" x="11" y="27.2">회원코드</text><text class="n" x="56" y="27.2">N.N.</text><text class="t" x="67" y="27.2">VARCHAR2(10)</text>
<use href="#ia" x="5" y="35"/><text class="a" x="11" y="37.2">제목</text><text class="n" x="56" y="37.2">N.N.</text><text class="t" x="67" y="37.2">VARCHAR2(90)</text>
<use href="#ia" x="5" y="45"/><text class="a" x="11" y="47.2">내용</text><text class="n" x="56" y="47.2">N.N.</text><text class="t" x="67" y="47.2">VARCHAR2(600)</text>
<use href="#ia" x="5" y="55"/><text class="a" x="11" y="57.2">판매가</text><text class="n" x="56" y="57.2">N.N.</text><text class="t" x="67" y="57.2">VARCHAR2(8)</text>
<use href="#ia" x="5" y="65"/><text class="a" x="11" y="67.2">작성일</text><text class="n" x="56" y="67.2">N.N.</text><text class="t" x="67" y="67.2">DATE</text></g>

<g id="t20" transform="translate(402,545)"><rect class="bd" width="111" height="30"/><rect class="z" x=".5" y="20" width="110" height="10"/><rect class="hd" width="111" height="10"/><rect class="fr" width="111" height="30"/><text class="h" x="3" y="7.6">요리_이미지</text>
<use href="#ikf" x="5" y="15"/><text class="p" x="11" y="17.2">요리상품코드</text><text class="n" x="56" y="17.2">N.N.</text><text class="t" x="66" y="17.2">VARCHAR2(10)</text>
<use href="#if" x="5" y="25"/><text class="f" x="11" y="27.2">첨부파일id</text><text class="n" x="56" y="27.2">N.N.</text><text class="t" x="66" y="27.2">NUMBER</text></g>

<g id="t21" transform="translate(773,532)"><rect class="bd" width="100" height="30"/><rect class="z" x=".5" y="20" width="99" height="10"/><rect class="hd" width="100" height="10"/><rect class="fr" width="100" height="30"/><text class="h" x="3" y="7.6">재료분류코드</text>
<use href="#ik" x="5" y="15"/><text class="p" x="11" y="17.2">재료분류코드</text><text class="n" x="45" y="17.2">N.N.</text><text class="t" x="55" y="17.2">VARCHAR2(10)</text>
<use href="#ia" x="5" y="25"/><text class="a" x="11" y="27.2">재료분류명</text><text class="n" x="45" y="27.2">N.N.</text><text class="t" x="55" y="27.2">VARCHAR2(30)</text></g>

<g id="t22" transform="translate(780,603)"><rect class="bd" width="112" height="30"/><rect class="z" x=".5" y="20" width="111" height="10"/><rect class="hd" width="112" height="10"/><rect class="fr" width="112" height="30"/><text class="h" x="3" y="7.6">요리재료</text>
<use href="#ikf" x="5" y="15"/><text class="p" x="11" y="17.2">요리상품코드</text><text class="n" x="55" y="17.2">N.N.</text><text class="t" x="67" y="17.2">VARCHAR2(10)</text>
<use href="#if" x="5" y="25"/><text class="f" x="11" y="27.2">재료분류코드</text><text class="n" x="55" y="27.2">N.N.</text><text class="t" x="67" y="27.2">VARCHAR2(10)</text></g>

<g id="t23" transform="translate(407,659)"><rect class="bd" width="111" height="30"/><rect class="z" x=".5" y="20" width="110" height="10"/><rect class="hd" width="111" height="10"/><rect class="fr" width="111" height="30"/><text class="h" x="3" y="7.6">요리재료정보</text>
<use href="#ikf" x="5" y="15"/><text class="p" x="11" y="17.2">요리상품코드</text><text class="n" x="55" y="17.2">N.N.</text><text class="t" x="66" y="17.2">VARCHAR2(10)</text>
<use href="#if" x="5" y="25"/><text class="f" x="11" y="27.2">재료코드</text><text class="n" x="55" y="27.2">N.N.</text><text class="t" x="66" y="27.2">VARCHAR2(10)</text></g>

<g id="t24" transform="translate(564,645)"><rect class="bd" width="112" height="30"/><rect class="z" x=".5" y="20" width="111" height="10"/><rect class="hd" width="112" height="10"/><rect class="fr" width="112" height="30"/><text class="h" x="3" y="7.6">분류</text>
<use href="#ikf" x="5" y="15"/><text class="p" x="11" y="17.2">요리상품코드</text><text class="n" x="56" y="17.2">N.N.</text><text class="t" x="68" y="17.2">VARCHAR2(10)</text>
<use href="#if" x="5" y="25"/><text class="f" x="11" y="27.2">분류코드</text><text class="n" x="56" y="27.2">N.N.</text><text class="t" x="68" y="27.2">VARCHAR2(10)</text></g>

<g id="t25" transform="translate(577,695)"><rect class="bd" width="99" height="30"/><rect class="z" x=".5" y="20" width="98" height="10"/><rect class="hd" width="99" height="10"/><rect class="fr" width="99" height="30"/><text class="h" x="3" y="7.6">요리종류분류코드</text>
<use href="#ik" x="5" y="15"/><text class="p" x="11" y="17.2">분류코드</text><text class="n" x="43" y="17.2">N.N.</text><text class="t" x="55" y="17.2">VARCHAR2(10)</text>
<use href="#ia" x="5" y="25"/><text class="a" x="11" y="27.2">분류명</text><text class="n" x="43" y="27.2">N.N.</text><text class="t" x="55" y="27.2">VARCHAR2(60)</text></g>

<g id="t26" transform="translate(696,695)"><rect class="bd" width="112" height="30"/><rect class="z" x=".5" y="20" width="111" height="10"/><rect class="hd" width="112" height="10"/><rect class="fr" width="112" height="30"/><text class="h" x="3" y="7.6">품절여부</text>
<use href="#ikf" x="5" y="15"/><text class="p" x="11" y="17.2">요리상품코드</text><text class="n" x="56" y="17.2">N.N.</text><text class="t" x="67" y="17.2">VARCHAR2(10)</text>
<use href="#ia" x="5" y="25"/><text class="a" x="11" y="27.2">품절여부</text><text class="n" x="56" y="27.2">N.N.</text><text class="t" x="67" y="27.2">CHAR(1 BYTE)</text></g>

<g id="t27" transform="translate(721,773)"><rect class="bd" width="98" height="30"/><rect class="z" x=".5" y="20" width="97" height="10"/><rect class="hd" width="98" height="10"/><rect class="fr" width="98" height="30"/><text class="h" x="3" y="7.6">재료코드</text>
<use href="#ik" x="5" y="15"/><text class="p" x="11" y="17.2">재료코드</text><text class="n" x="42" y="17.2">N.N.</text><text class="t" x="55" y="17.2">VARCHAR2(10)</text>
<use href="#ia" x="5" y="25"/><text class="a" x="11" y="27.2">재료명</text><text class="n" x="42" y="27.2">N.N.</text><text class="t" x="55" y="27.2">VARCHAR2(16)</text></g>

<g id="t28" transform="translate(889,66)"><rect class="bd" width="111" height="30"/><rect class="z" x=".5" y="20" width="110" height="10"/><rect class="hd" width="111" height="10"/><rect class="fr" width="111" height="30"/><text class="h" x="3" y="7.6">구독</text>
<use href="#ikf" x="5" y="15"/><text class="p" x="11" y="17.2">구독코드</text><text class="n" x="52" y="17.2">N.N.</text><text class="t" x="66" y="17.2">VARCHAR2(10)</text>
<use href="#ikf" x="5" y="25"/><text class="p" x="11" y="27.2">구독회원코드</text><text class="n" x="52" y="27.2">N.N.</text><text class="t" x="66" y="27.2">VARCHAR2(10)</text></g>

<g id="t29"><rect x="1096" y="13" width="116" height="86" rx="2" fill="#fff" stroke="#a77272" stroke-width="3" filter="url(#sh)"/>
<g transform="translate(1100,16)"><rect class="z" x=".5" y="20" width="107" height="10"/><rect class="z" x=".5" y="40" width="107" height="10"/><rect class="z" x=".5" y="60" width="107" height="10"/><rect class="hd" width="108" height="10"/><rect class="fr" width="108" height="80"/><text class="h" x="3" y="7.6">구독정보</text>
<use href="#ik" x="5" y="15"/><text class="p" x="11" y="17.2">구독코드</text><text class="n" x="51" y="17.2">N.N.</text><text class="t" x="64" y="17.2">VARCHAR2(10)</text>
<use href="#if" x="5" y="25"/><text class="f" x="11" y="27.2">회원코드</text><text class="n" x="51" y="27.2">N.N.</text><text class="t" x="64" y="27.2">VARCHAR2(10)</text>
<use href="#ia" x="5" y="35"/><text class="a" x="11" y="37.2">상태</text><text class="n" x="51" y="37.2">N.N.</text><text class="t" x="64" y="37.2">CHAR(1 BYTE)</text>
<use href="#ia" x="5" y="45"/><text class="a" x="11" y="47.2">구독시작일</text><text class="n" x="51" y="47.2">N.N.</text><text class="t" x="64" y="47.2">DATE</text>
<use href="#ia" x="5" y="55"/><text class="a" x="11" y="57.2">구독만료일</text><text class="n" x="51" y="57.2">N.N.</text><text class="t" x="64" y="57.2">DATE</text>
<use href="#ia" x="5" y="65"/><text class="a" x="11" y="67.2">결제금액</text><text class="n" x="51" y="67.2">N.N.</text><text class="t" x="64" y="67.2">NUMBER</text>
<use href="#ia" x="5" y="75"/><text class="a" x="11" y="77.2">결제횟수</text><text class="n" x="51" y="77.2">N.N.</text><text class="t" x="64" y="77.2">NUMBER</text></g></g>

<g id="t30" transform="translate(1017,133)"><rect class="bd" width="99" height="30"/><rect class="z" x=".5" y="20" width="98" height="10"/><rect class="hd" width="99" height="10"/><rect class="fr" width="99" height="30"/><text class="h" x="3" y="7.6">구독혜택</text>
<use href="#ikf" x="5" y="15"/><text class="p" x="11" y="17.2">구독코드</text><text class="n" x="44" y="17.2">N.N.</text><text class="t" x="54" y="17.2">VARCHAR2(10)</text>
<use href="#if" x="5" y="25"/><text class="f" x="11" y="27.2">혜택코드</text><text class="n" x="44" y="27.2">N.N.</text><text class="t" x="54" y="27.2">VARCHAR2(10)</text></g>

<g id="t31" transform="translate(1158,175)"><rect class="bd" width="98" height="30"/><rect class="z" x=".5" y="20" width="97" height="10"/><rect class="hd" width="98" height="10"/><rect class="fr" width="98" height="30"/><text class="h" x="3" y="7.6">혜택코드</text>
<use href="#ik" x="5" y="15"/><text class="p" x="11" y="17.2">혜택코드</text><text class="n" x="40" y="17.2">N.N.</text><text class="t" x="54" y="17.2">VARCHAR2(10)</text>
<use href="#ia" x="5" y="25"/><text class="a" x="11" y="27.2">혜택명</text><text class="n" x="40" y="27.2">N.N.</text><text class="t" x="54" y="27.2">VARCHAR2(20)</text></g>

<g id="t32" transform="translate(1141,225)"><rect class="bd" width="107" height="30"/><rect class="z" x=".5" y="20" width="106" height="10"/><rect class="hd" width="107" height="10"/><rect class="fr" width="107" height="30"/><text class="h" x="3" y="7.6">레스토랑 혜택</text>
<use href="#ikf" x="5" y="15"/><text class="p" x="11" y="17.2">레스토랑코드</text><text class="n" x="49" y="17.2">N.N.</text><text class="t" x="61" y="17.2">VARCHAR2(10)</text>
<use href="#if" x="5" y="25"/><text class="f" x="11" y="27.2">혜택코드</text><text class="n" x="49" y="27.2">N.N.</text><text class="t" x="61" y="27.2">VARCHAR2(10)</text></g>

<g id="t33" transform="translate(1170,116)"><rect class="bd" width="101" height="30"/><rect class="z" x=".5" y="20" width="100" height="10"/><rect class="hd" width="101" height="10"/><rect class="fr" width="101" height="30"/><text class="h" x="3" y="7.6">구독옵션</text>
<use href="#ikf" x="5" y="15"/><text class="p" x="11" y="17.2">구독코드</text><text class="n" x="40" y="17.2">N.N.</text><text class="t" x="55" y="17.2">VARCHAR2(10)</text>
<use href="#if" x="5" y="25"/><text class="f" x="11" y="27.2">옵션코드</text><text class="n" x="40" y="27.2">N.N.</text><text class="t" x="55" y="27.2">VARCHAR2(10)</text></g>

<g id="t35" transform="translate(1352,186)"><rect class="bd" width="105" height="30"/><rect class="z" x=".5" y="20" width="104" height="10"/><rect class="hd" width="105" height="10"/><rect class="fr" width="105" height="30"/><text class="h" x="56" y="7.6">레스토랑옵션</text>
<use href="#ikf" x="5" y="15"/><text class="p" x="11" y="17.2">옵션코드</text><text class="n" x="51" y="17.2">N.N.</text><text class="t" x="60" y="17.2">VARCHAR2(10)</text>
<use href="#if" x="5" y="25"/><text class="f" x="11" y="27.2">레스토랑코드</text><text class="n" x="51" y="27.2">N.N.</text><text class="t" x="60" y="27.2">VARCHAR2(10)</text></g>

<g id="t34" transform="translate(1306,167)"><rect class="bd" width="99" height="30"/><rect class="z" x=".5" y="20" width="98" height="10"/><rect class="hd" width="99" height="10"/><rect class="fr" width="99" height="30"/><text class="h" x="3" y="7.6">옵션코드</text>
<use href="#ik" x="5" y="15"/><text class="p" x="11" y="17.2">옵션코드</text><text class="n" x="42" y="17.2">N.N.</text><text class="t" x="56" y="17.2">VARCHAR2(10)</text>
<use href="#ia" x="5" y="25"/><text class="a" x="11" y="27.2">옵션명</text><text class="n" x="42" y="27.2">N.N.</text><text class="t" x="56" y="27.2">VARCHAR2(20)</text></g>

<g id="t36" transform="translate(936,254)"><rect class="bd" width="118" height="80"/><rect class="z" x=".5" y="20" width="117" height="10"/><rect class="z" x=".5" y="40" width="117" height="10"/><rect class="z" x=".5" y="60" width="117" height="10"/><rect class="hd" width="118" height="10"/><rect class="fr" width="118" height="80"/><text class="h" x="3" y="7.6">레스토랑 리뷰</text>
<use href="#ik" x="5" y="15"/><text class="p" x="11" y="17.2">리뷰코드</text><text class="n" x="59" y="17.2">N.N.</text><text class="t" x="69" y="17.2">VARCHAR2(10)</text>
<use href="#if" x="5" y="25"/><text class="f" x="11" y="27.2">회원코드</text><text class="n" x="59" y="27.2">N.N.</text><text class="t" x="69" y="27.2">VARCHAR2(10)</text>
<use href="#if" x="5" y="35"/><text class="f" x="11" y="37.2">예약코드</text><text class="n" x="59" y="37.2">N.N.</text><text class="t" x="69" y="37.2">VARCHAR2(10)</text>
<use href="#ia" x="5" y="45"/><text class="a" x="11" y="47.2">리뷰제목</text><text class="n" x="59" y="47.2">N.N.</text><text class="t" x="69" y="47.2">VARCHAR2(60)</text>
<use href="#ia" x="5" y="55"/><text class="a" x="11" y="57.2">리뷰내용</text><text class="n" x="59" y="57.2">N.N.</text><text class="t" x="69" y="57.2">VARCHAR2(600)</text>
<use href="#ia" x="5" y="65"/><text class="a" x="11" y="67.2">리뷰작성날짜</text><text class="n" x="59" y="67.2">N.N.</text><text class="t" x="69" y="67.2">DATE</text>
<use href="#ia" x="5" y="75"/><text class="a" x="11" y="77.2">리뷰수정날짜</text><text class="n" x="59" y="77.2">N.N.</text><text class="t" x="69" y="77.2">DATE</text></g>

<g id="t37" transform="translate(1139,334)"><rect class="bd" width="116" height="60"/><rect class="z" x=".5" y="20" width="115" height="10"/><rect class="z" x=".5" y="40" width="115" height="10"/><rect class="hd" width="116" height="10"/><rect class="fr" width="116" height="60"/><text class="h" x="3" y="7.6">리뷰 답변</text>
<use href="#ik" x="5" y="15"/><text class="p" x="11" y="17.2">리뷰답변코드</text><text class="n" x="55" y="17.2">N.N.</text><text class="t" x="67" y="17.2">VARCHAR2(10)</text>
<use href="#if" x="5" y="25"/><text class="f" x="11" y="27.2">리뷰코드</text><text class="n" x="55" y="27.2">N.N.</text><text class="t" x="67" y="27.2">VARCHAR2(10)</text>
<use href="#if" x="5" y="35"/><text class="f" x="11" y="37.2">레스토랑코드</text><text class="n" x="55" y="37.2">N.N.</text><text class="t" x="67" y="37.2">VARCHAR2(10)</text>
<use href="#ia" x="5" y="45"/><text class="a" x="11" y="47.2">답변내용</text><text class="n" x="55" y="47.2">N.N.</text><text class="t" x="67" y="47.2">VARCHAR2(600)</text>
<use href="#ia" x="5" y="55"/><text class="a" x="11" y="57.2">답변날짜</text><text class="n" x="55" y="57.2">N.N.</text><text class="t" x="67" y="57.2">DATE</text></g>

<g id="t38" transform="translate(981,383)"><rect class="bd" width="105" height="90"/><rect class="z" x=".5" y="20" width="104" height="10"/><rect class="z" x=".5" y="40" width="104" height="10"/><rect class="z" x=".5" y="60" width="104" height="10"/><rect class="z" x=".5" y="80" width="104" height="10"/><rect class="hd" width="105" height="10"/><rect class="fr" width="105" height="90"/><text class="h" x="3" y="7.6">예약정보</text>
<use href="#ik" x="5" y="15"/><text class="p" x="11" y="17.2">예약코드</text><text class="n" x="49" y="17.2">N.N.</text><text class="t" x="60" y="17.2">VARCHAR2(10)</text>
<use href="#if" x="5" y="25"/><text class="f" x="11" y="27.2">회원코드</text><text class="n" x="49" y="27.2">N.N.</text><text class="t" x="60" y="27.2">VARCHAR2(10)</text>
<use href="#if" x="5" y="35"/><text class="f" x="11" y="37.2">레스토랑코드</text><text class="n" x="49" y="37.2">N.N.</text><text class="t" x="60" y="37.2">VARCHAR2(10)</text>
<use href="#ia" x="5" y="45"/><text class="a" x="11" y="47.2">예약일</text><text class="n" x="49" y="47.2">N.N.</text><text class="t" x="60" y="47.2">DATE</text>
<use href="#ia" x="5" y="55"/><text class="a" x="11" y="57.2">방문일</text><text class="n" x="49" y="57.2">N.N.</text><text class="t" x="60" y="57.2">DATE</text>
<use href="#ia" x="5" y="65"/><text class="a" x="11" y="67.2">취소일</text><text class="n" x="49" y="67.2">N.N.</text><text class="t" x="60" y="67.2">DATE</text>
<use href="#ia" x="5" y="75"/><text class="a" x="11" y="77.2">인원수</text><text class="n" x="49" y="77.2">N.N.</text><text class="t" x="60" y="77.2">NUMBER</text>
<use href="#ia" x="5" y="85"/><text class="a" x="11" y="87.2">예약상태</text><text class="n" x="49" y="87.2">N.N.</text><text class="t" x="60" y="87.2">VARCHAR2(6)</text></g>

<g id="t39" transform="translate(1022,609)"><rect class="bd" width="112" height="50"/><rect class="z" x=".5" y="20" width="111" height="10"/><rect class="z" x=".5" y="40" width="111" height="10"/><rect class="hd" width="112" height="10"/><rect class="fr" width="112" height="50"/><text class="h" x="3" y="7.6">취소</text>
<use href="#ik" x="5" y="15"/><text class="p" x="11" y="17.2">취소코드</text><text class="n" x="56" y="17.2">N.N.</text><text class="t" x="68" y="17.2">VARCHAR2(10)</text>
<use href="#if" x="5" y="25"/><text class="f" x="11" y="27.2">예약코드</text><text class="n" x="56" y="27.2">N.N.</text><text class="t" x="68" y="27.2">VARCHAR2(10)</text>
<use href="#if" x="5" y="35"/><text class="f" x="11" y="37.2">취소사유코드</text><text class="n" x="56" y="37.2">N.N.</text><text class="t" x="68" y="37.2">VARCHAR2(10)</text>
<use href="#ia" x="5" y="45"/><text class="a" x="11" y="47.2">취소날짜</text><text class="n" x="56" y="47.2">N.N.</text><text class="t" x="68" y="47.2">DATE</text></g>

<g id="t40" transform="translate(1162,619)"><rect class="bd" width="112" height="30"/><rect class="z" x=".5" y="20" width="111" height="10"/><rect class="hd" width="112" height="10"/><rect class="fr" width="112" height="30"/><text class="h" x="3" y="7.6">취소사유</text>
<use href="#ik" x="5" y="15"/><text class="p" x="11" y="17.2">취소사유코드</text><text class="n" x="56" y="17.2">N.N.</text><text class="t" x="68" y="17.2">VARCHAR2(10)</text>
<use href="#ia" x="5" y="25"/><text class="a" x="11" y="27.2">취소사유</text><text class="n" x="56" y="27.2">N.N.</text><text class="t" x="68" y="27.2">VARCHAR2(60)</text></g>

<g id="t41" transform="translate(857,705)"><rect class="bd" width="105" height="40"/><rect class="z" x=".5" y="20" width="104" height="10"/><rect class="hd" width="105" height="10"/><rect class="fr" width="105" height="40"/><text class="h" x="3" y="7.6">레스_찜</text>
<use href="#ik" x="5" y="15"/><text class="p" x="11" y="17.2">찜코드</text><text class="n" x="48" y="17.2">N.N.</text><text class="t" x="60" y="17.2">VARCHAR2(10)</text>
<use href="#if" x="5" y="25"/><text class="f" x="11" y="27.2">회원코드</text><text class="n" x="48" y="27.2">N.N.</text><text class="t" x="60" y="27.2">VARCHAR2(10)</text>
<use href="#if" x="5" y="35"/><text class="f" x="11" y="37.2">레스토랑코드</text><text class="n" x="48" y="37.2">N.N.</text><text class="t" x="60" y="37.2">VARCHAR2(10)</text></g>

<g id="t42" transform="translate(1013,684)"><rect class="bd" width="112" height="40"/><rect class="z" x=".5" y="20" width="111" height="10"/><rect class="hd" width="112" height="10"/><rect class="fr" width="112" height="40"/><text class="h" x="3" y="7.6">레스토랑 장바구니</text>
<use href="#ik" x="5" y="15"/><text class="p" x="11" y="17.2">장바구니코드</text><text class="n" x="55" y="17.2">N.N.</text><text class="t" x="67" y="17.2">VARCHAR2(10)</text>
<use href="#ikf" x="5" y="25"/><text class="p" x="11" y="27.2">레스토랑코드</text><text class="n" x="55" y="27.2">N.N.</text><text class="t" x="67" y="27.2">VARCHAR2(10)</text>
<use href="#if" x="5" y="35"/><text class="f" x="11" y="37.2">회원코드</text><text class="n" x="55" y="37.2">N.N.</text><text class="t" x="67" y="37.2">VARCHAR2(10)</text></g>

<g id="t43" transform="translate(869,773)"><rect class="bd" width="107" height="30"/><rect class="z" x=".5" y="20" width="106" height="10"/><rect class="hd" width="107" height="10"/><rect class="fr" width="107" height="30"/><text class="h" x="3" y="7.6">레스토랑 재료정보</text>
<use href="#ikf" x="5" y="15"/><text class="p" x="11" y="17.2">레스토랑코드</text><text class="n" x="51" y="17.2">N.N.</text><text class="t" x="61" y="17.2">VARCHAR2(10)</text>
<use href="#if" x="5" y="25"/><text class="f" x="11" y="27.2">재료코드</text><text class="n" x="51" y="27.2">N.N.</text><text class="t" x="61" y="27.2">VARCHAR2(10)</text></g>

<g id="t44" transform="translate(943,823)"><rect class="bd" width="107" height="30"/><rect class="z" x=".5" y="20" width="106" height="10"/><rect class="hd" width="107" height="10"/><rect class="fr" width="107" height="30"/><text class="h" x="3" y="7.6">레스토랑_이미지</text>
<use href="#ikf" x="5" y="15"/><text class="p" x="11" y="17.2">레스토랑코드</text><text class="n" x="50" y="17.2">N.N.</text><text class="t" x="61" y="17.2">VARCHAR2(10)</text>
<use href="#if" x="5" y="25"/><text class="f" x="11" y="27.2">첨부파일id</text><text class="n" x="50" y="27.2">N.N.</text><text class="t" x="61" y="27.2">NUMBER</text></g>

<g id="t45" transform="translate(1377,532)"><rect class="bd" width="120" height="160"/><rect class="z" x=".5" y="20" width="119" height="10"/><rect class="z" x=".5" y="40" width="119" height="10"/><rect class="z" x=".5" y="60" width="119" height="10"/><rect class="z" x=".5" y="80" width="119" height="10"/><rect class="z" x=".5" y="100" width="119" height="10"/><rect class="z" x=".5" y="120" width="119" height="10"/><rect class="z" x=".5" y="140" width="119" height="10"/><rect class="hd" width="120" height="10"/><rect class="fr" width="120" height="160"/><text class="h" x="3" y="7.6">레스토랑관리자</text>
<use href="#ik" x="5" y="15"/><text class="p" x="11" y="17.2">레스토랑코드</text><text class="n" x="58" y="17.2">N.N.</text><text class="t" x="72" y="17.2">VARCHAR2(10)</text>
<use href="#ia" x="5" y="25"/><text class="a" x="11" y="27.2">아이디</text><text class="n" x="58" y="27.2">N.N.</text><text class="t" x="72" y="27.2">VARCHAR2(20)</text>
<use href="#ia" x="5" y="35"/><text class="a" x="11" y="37.2">비밀번호</text><text class="n" x="58" y="37.2">N.N.</text><text class="t" x="72" y="37.2">VARCHAR2(20)</text>
<use href="#ia" x="5" y="45"/><text class="a" x="11" y="47.2">대표자닉네임</text><text class="n" x="58" y="47.2">N.N.</text><text class="t" x="72" y="47.2">VARCHAR2(20)</text>
<use href="#ia" x="5" y="55"/><text class="a" x="11" y="57.2">레스토랑이름</text><text class="n" x="58" y="57.2">N.N.</text><text class="t" x="72" y="57.2">VARCHAR2(60)</text>
<use href="#ia" x="5" y="65"/><text class="a" x="11" y="67.2">레스토랑 전화번호</text><text class="n" x="58" y="67.2">N.N.</text><text class="t" x="72" y="67.2">VARCHAR2(16)</text>
<use href="#ia" x="5" y="75"/><text class="a" x="11" y="77.2">레스토랑 설명</text><text class="n" x="58" y="77.2">N.N.</text><text class="t" x="72" y="77.2">VARCHAR2(600)</text>
<use href="#ia" x="5" y="85"/><text class="a" x="11" y="87.2">영업시간</text><text class="n" x="58" y="87.2">N.N.</text><text class="t" x="72" y="87.2">VARCHAR2(200)</text>
<use href="#ia" x="5" y="95"/><text class="a" x="11" y="97.2">요일</text><text class="n" x="58" y="97.2">N.N.</text><text class="t" x="72" y="97.2">VARCHAR2(40)</text>
<use href="#ia" x="5" y="105"/><text class="a" x="11" y="107.2">하루최대예약수</text><text class="n" x="58" y="107.2">N.N.</text><text class="t" x="72" y="107.2">NUMBER</text>
<use href="#ia" x="5" y="115"/><text class="a" x="11" y="117.2">좌표_위도</text><text class="n" x="58" y="117.2">N.N.</text><text class="t" x="72" y="117.2">VARCHAR2(40)</text>
<use href="#ia" x="5" y="125"/><text class="a" x="11" y="127.2">좌표_경도</text><text class="n" x="58" y="127.2">N.N.</text><text class="t" x="72" y="127.2">VARCHAR2(40)</text>
<use href="#ia" x="5" y="135"/><text class="a" x="11" y="137.2">도로명주소</text><text class="n" x="58" y="137.2">N.N.</text><text class="t" x="72" y="137.2">VARCHAR2(200)</text>
<use href="#ia" x="5" y="145"/><text class="a" x="11" y="147.2">소재지번주소</text><text class="n" x="58" y="147.2">N.N.</text><text class="t" x="72" y="147.2">VARCHAR2(200)</text>
<use href="#ia" x="5" y="155"/><text class="a" x="11" y="157.2">승인여부</text><text class="n" x="58" y="157.2">N.N.</text><text class="t" x="72" y="157.2">CHAR(1 BYTE)</text></g>
</svg>
